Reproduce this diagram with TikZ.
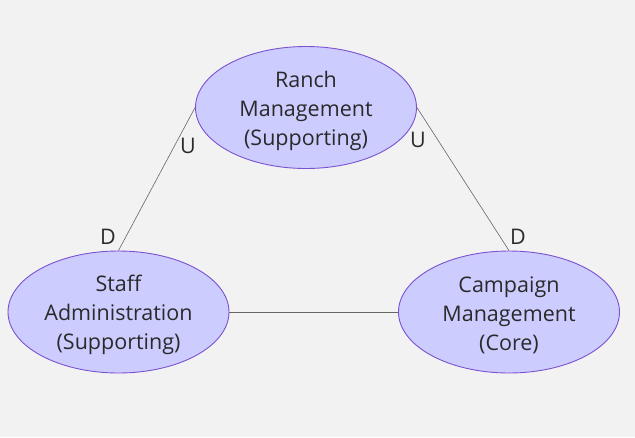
\documentclass[tikz,border=0pt]{standalone}
\usepackage{fontspec}
\setmainfont{Open Sans}
\usetikzlibrary{shapes.geometric}
\definecolor{bg}{HTML}{F2F2F2}
\definecolor{efill}{HTML}{CCCCFF}
\definecolor{edraw}{HTML}{7B52D0}
\definecolor{txt}{HTML}{2A2A2A}
\definecolor{lnc}{HTML}{666666}
\tikzset{
  ctx/.style={ellipse, draw=edraw, fill=efill, line width=0.9pt, minimum width=221pt, minimum height=122pt, inner sep=0pt},
  ctxtext/.style={align=center, text=txt, inner sep=0pt, font=\fontsize{21.5}{29}\selectfont},
  rel/.style={draw=lnc, line width=0.6pt},
  lbl/.style={text=txt, font=\fontsize{21.5}{24}\selectfont, inner sep=0pt}
}
\begin{document}
\begin{tikzpicture}[x=1pt,y=-1pt]
\fill[bg] (0,0) rectangle (635,437);
\useasboundingbox (0,0) rectangle (635,437);
\node[ctx] (ranch) at (306,107.5) {};
\node[ctx] (staff) at (118.5,312) {};
\node[ctx] (camp) at (509,312) {};
\node[ctxtext] (ranchT) at ([yshift=-3pt]ranch.center) {Ranch\\Management\\(Supporting)};
\node[ctxtext] (staffT) at ([yshift=-3pt]staff.center) {Staff\\Administration\\(Supporting)};
\node[ctxtext] (campT) at ([yshift=-3pt]camp.center) {Campaign\\Management\\(Core)};
\draw[rel] (ranch.west) -- (staff.north);
\draw[rel] (ranch.east) -- (camp.north);
\draw[rel] (staff.east) -- (camp.west);
\node[lbl] (u1) at (188,146) {U};
\node[lbl] (d1) at (108,237) {D};
\node[lbl] (u2) at (418,140) {U};
\node[lbl] (d2) at (518,237) {D};
\end{tikzpicture}
\end{document}
